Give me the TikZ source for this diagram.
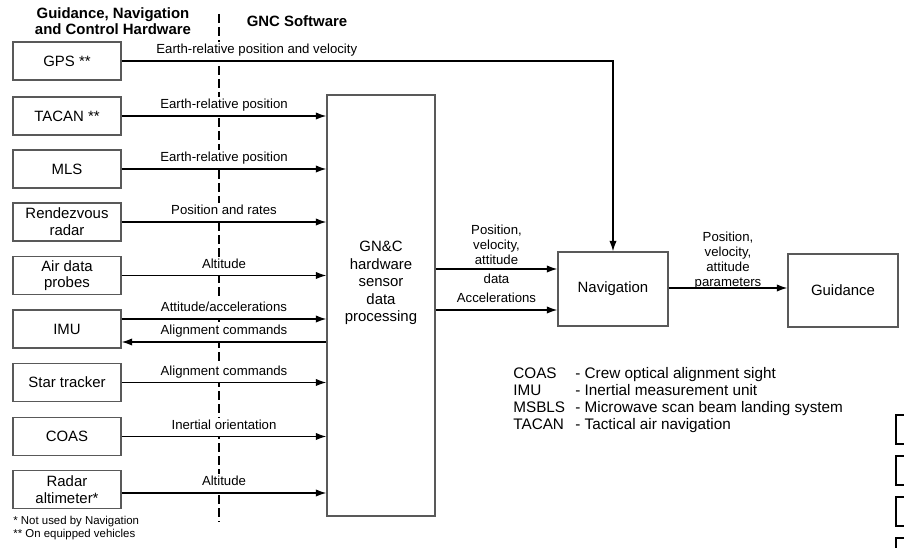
\documentclass[tikz,border=0pt]{standalone}
\usepackage{fontspec}
\setmainfont{Liberation Sans}
\usetikzlibrary{positioning, arrows.meta}
\tikzset{flecha/.style={line width=0.7pt, -{Latex[length=6pt,width=4.2pt]}}}
\tikzset{caja/.style={draw=black!65, line width=0.8pt, minimum width=21.6mm, minimum height=7.6mm, align=center, inner sep=1pt, font=\fontsize{8.5}{9.5}\selectfont}}
\tikzset{rotulo/.style={fill=white, inner sep=1.2pt, text depth=0.25em, font=\fontsize{7.5}{8.5}\selectfont}}
\tikzset{titulo/.style={align=center, font=\bfseries\fontsize{8.5}{9}\selectfont}}

\begin{document}
\begin{tikzpicture}[
            x = 0.2mm, y = -0.2mm
        ]
            \useasboundingbox (0,0) rectangle (904,548);

            % headings and divider
            \node[titulo] (hw) at (113,21) {Guidance, Navigation\\and Control Hardware};
            \node[titulo] (sw) at (297,21) {GNC Software};
            \draw[line width=0.7pt, dash pattern=on 1.8mm off 0.8mm] (219,14) -- (219,522);

            % hardware
            \node[caja] (gps) at (67,61) {GPS **};
            \node[caja] (tacan) at (67,116) {TACAN **};
            \node[caja] (mls) at (67,169) {MLS};
            \node[caja] (rdv) at (67,222) {Rendezvous\\radar};
            \node[caja] (adp) at (67,275.5) {Air data\\probes};
            \node[caja] (imu) at (67,329) {IMU};
            \node[caja] (star) at (67,382.5) {Star tracker};
            \node[caja] (coas) at (67,436.5) {COAS};
            \node[caja] (ralt) at (67,489.5) {Radar\\altimeter*};

            % software
            \node[caja, minimum height=84.2mm] (gnc) at (381,305.5) {};
            \node[align=center, font=\fontsize{8.5}{10}\selectfont] (gnctxt) at (381,283) {GN\&C\\hardware\\sensor\\data\\processing};
            \node[caja, minimum width=22mm, minimum height=14.8mm] (nav) at (613,289) {Navigation};
            \node[caja, minimum width=22mm, minimum height=14.6mm] (guid) at (843,290.5) {Guidance};

            % shifted end points
            \coordinate (imuin) at ([yshift=2mm]imu.east);
            \coordinate (imuout) at ([yshift=-2.6mm]imu.east);
            \coordinate (raltout) at ([yshift=-0.7mm]ralt.east);
            \coordinate (navdata) at ([yshift=4mm]nav.west);
            \coordinate (navacc) at ([yshift=-4.2mm]nav.west);
            \coordinate (navout) at ([yshift=0.2mm]nav.east);

            \draw[flecha] (gps.east) -| node[rotulo, above, pos=0.1375] {Earth-relative position and velocity} (nav.north);
            \draw[flecha] (tacan.east) -- node[rotulo, above] {Earth-relative position} (gnc.west |- tacan.east);
            \draw[flecha] (mls.east) -- node[rotulo, above] {Earth-relative position} (gnc.west |- mls.east);
            \draw[flecha] (rdv.east) -- node[rotulo, above] {Position and rates} (gnc.west |- rdv.east);
            \draw[flecha] (adp.east) -- node[rotulo, above] {Altitude} (gnc.west |- adp.east);
            \draw[flecha] (imuin) -- node[rotulo, above] {Attitude/accelerations} (gnc.west |- imuin);
            \draw[flecha] (gnc.west |- imuout) -- node[rotulo, above] {Alignment commands} (imuout);
            \draw[flecha] (star.east) -- node[rotulo, above] {Alignment commands} (gnc.west |- star.east);
            \draw[flecha] (coas.east) -- node[rotulo, above] {Inertial orientation} (gnc.west |- coas.east);
            \draw[flecha] (raltout) -- node[rotulo, above] {Altitude} (gnc.west |- raltout);

            \draw[flecha] (gnc.east |- navdata) -- node[rotulo, above, align=center, inner sep=2pt, text depth=0pt] {Position,\\velocity,\\attitude} node[rotulo, below, inner sep=2.5pt] {data} (navdata);
            \draw[flecha] (gnc.east |- navacc) -- node[rotulo, above] {Accelerations} (navacc);
            \draw[flecha] (navout) -- node[rotulo, fill=none, above, align=center, yshift=-3pt] {Position,\\velocity,\\attitude\\parameters} (guid.west |- navout);

            % abbreviations and notes
            \node[anchor=west, inner sep=0pt, font=\fontsize{8.7}{9.7}\selectfont] (abrev) at (513,400.5) {%
                \begin{tabular}{@{}p{12.4mm}@{}l@{}}
                COAS & - Crew optical alignment sight\\
                IMU & - Inertial measurement unit\\
                MSBLS & - Microwave scan beam landing system\\
                TACAN & - Tactical air navigation
                \end{tabular}};
            \node[anchor=west, align=left, inner sep=0pt, font=\fontsize{6.5}{7.4}\selectfont] (notas) at (13,528.5) {* Not used by Navigation\\** On equipped vehicles};

            % cut-off boxes at the right edge
            \begin{scope}
                \clip (0,0) rectangle (904,548);
                \foreach \y in {415,456,497,538}
                    \draw[line width=1.2pt] (896,\y) rectangle +(30,29);
            \end{scope}
        \end{tikzpicture}
\end{document}
